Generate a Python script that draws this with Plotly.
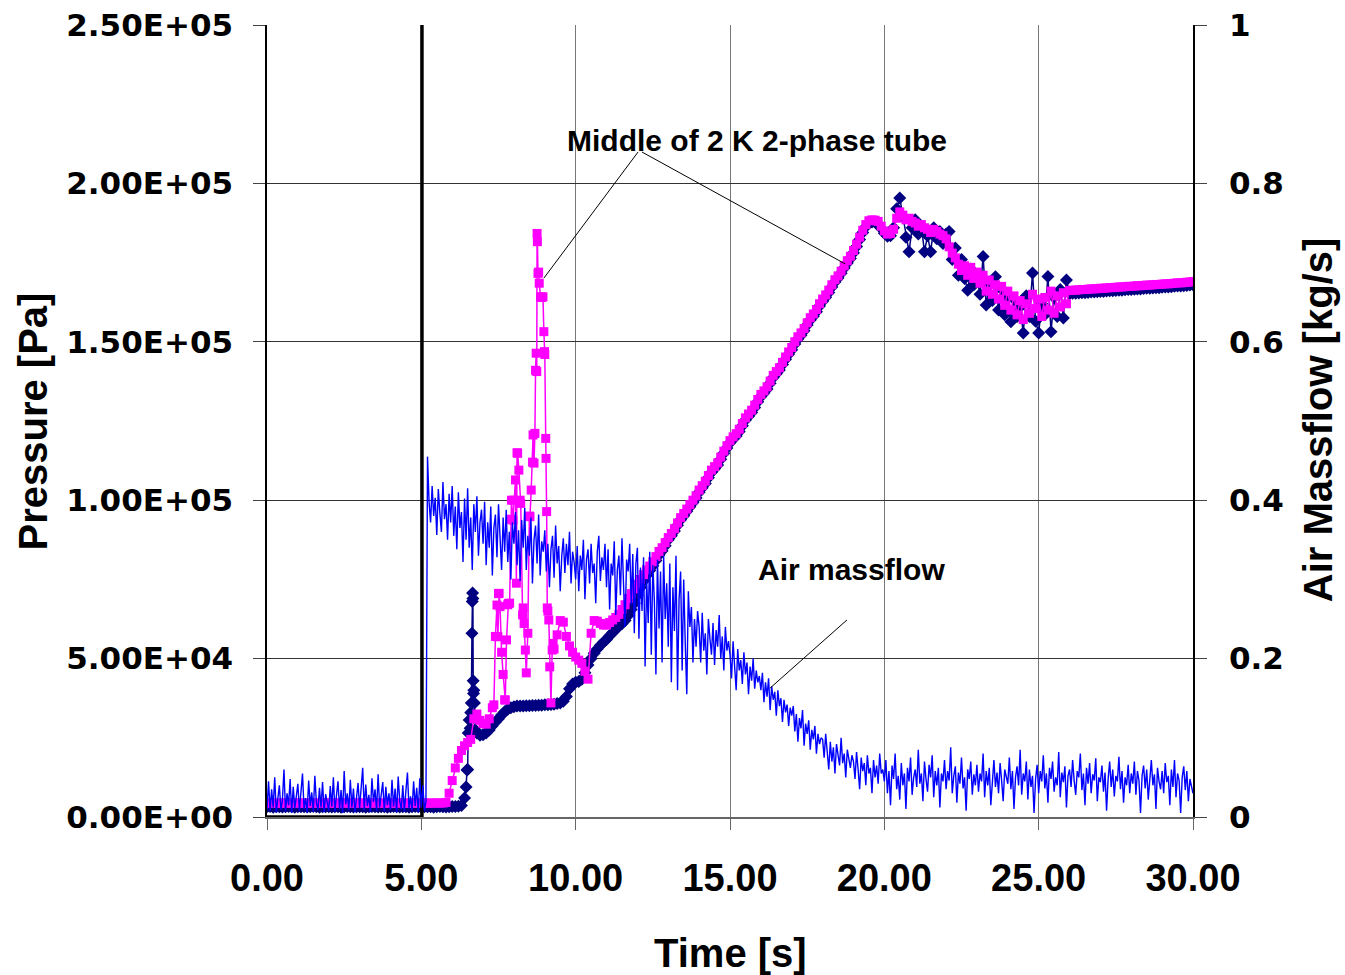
import plotly.graph_objects as go

# sample grids (s)
T_P = [round(0.1 * i, 1) for i in range(301)]
T_AIR = [round(0.05 * i, 2) for i in range(601)]

# Pressure, middle of 2 K 2-phase tube [Pa] (magenta), one value per 0.1 s
P_TUBE_MID = [
    4400, 4450, 4400, 4350, 4400, 4450, 4400, 4400, 4350, 4400,
    4450, 4400, 4350, 4400, 4400, 4450, 4400, 4350, 4400, 4450,
    4400, 4400, 4350, 4450, 4400, 4400, 4450, 4350, 4400, 4400,
    4450, 4400, 4400, 4350, 4400, 4450, 4400, 4400, 4350, 4450,
    4400, 4350, 4400, 4450, 4400, 4400, 4350, 4400, 4450, 4400,
    4400, 4450, 4350, 4400, 4400, 4450, 4400, 4400, 4600, 7500,
    11500, 15500, 18500, 21000, 22500, 23500, 24500, 31000, 32500, 30500,
    29500, 29300, 31000, 34500, 57000, 70500, 52000, 37000, 67000, 94000,
    100000, 115000, 100000, 66000, 45500, 95000, 112000, 141000, 172000, 164000,
    146000, 65000, 36000, 53000, 57500, 62000, 61500, 57000, 54000, 52000,
    50500, 49500, 48500, 46000, 43500, 58000, 62000, 61800, 61100, 60600,
    60600, 61400, 62200, 63000, 64000, 65500, 67000, 69000, 70500, 72000,
    73500, 75000, 76500, 78000, 79200, 80600, 82200, 83800, 85000, 86600,
    88200, 89500, 91000, 92800, 94500, 95800, 97200, 98600, 100000, 101400,
    103200, 104600, 106000, 107800, 109500, 110600, 111800, 113600, 115500, 117200,
    118800, 120000, 121000, 122400, 124200, 126000, 127200, 128400, 130000, 131800,
    133400, 134500, 135800, 137600, 139400, 140600, 141800, 143500, 145200, 146800,
    148200, 150000, 151600, 152800, 154200, 156000, 157600, 158800, 160200, 162000,
    163500, 164800, 166300, 168000, 169600, 170800, 172300, 174000, 175600, 177000,
    178800, 180800, 183000, 185200, 187000, 188200, 188500, 188400, 188000, 186500,
    185000, 184000, 184200, 185500, 189000, 191000, 190000, 188500, 189000, 188000,
    187500, 186500, 187000, 186000, 185500, 184500, 185500, 184800, 184000, 183500,
    182500, 180000, 178000, 176500, 174500, 172500, 174000, 171000, 173500, 170000,
    172000, 168500, 171000, 166000, 169500, 165000, 168000, 163500, 167500, 161500,
    166000, 160000, 164500, 158500, 163000, 157000, 162000, 159000, 165000, 160500,
    163500, 158000, 164000, 160000, 166000, 159000, 164500, 161000, 165500, 162000,
    166200, 166300, 166300, 166400, 166500, 166500, 166600, 166700, 166700, 166800,
    166900, 166900, 167000, 167100, 167100, 167200, 167300, 167300, 167400, 167500,
    167500, 167600, 167700, 167700, 167800, 167900, 167900, 168000, 168100, 168100,
    168200, 168300, 168300, 168400, 168500, 168600, 168600, 168700, 168800, 168900,
    169000,
]
# extra readings in the oscillating part (7.3 - 9.3 s)
P_TUBE_MID_BURST_T = [7.35, 7.45, 7.48, 7.52, 7.55, 7.65, 7.72, 7.76, 7.82, 7.86,
                      7.92, 7.97, 8.05, 8.08, 8.12, 8.16, 8.22, 8.28, 8.33, 8.37,
                      8.45, 8.52, 8.56, 8.62, 8.65, 8.68, 8.72, 8.74, 8.75, 8.76,
                      8.78, 8.82, 8.86, 8.94, 8.97, 8.99, 9.03, 9.04, 9.06, 9.08,
                      9.13, 9.16, 9.24, 9.27]
P_TUBE_MID_BURST = [35400, 66900, 56900, 70600, 66400, 45000, 36900, 55900, 67400, 67500,
                    100000, 93700, 106400, 73800, 114800, 109500, 99000, 63800, 61100, 52700,
                    58000, 94800, 103200, 120600, 111700, 121100, 146400, 140600, 184200, 181600,
                    171600, 168500, 164200, 164200, 153200, 146900, 119500, 113200, 96400, 66000,
                    62200, 47400, 52700, 54800]

# Pressure, second sensor [Pa] (navy), one value per 0.1 s
P_SENSOR = [
    3200, 3300, 3100, 3200, 3250, 3150, 3200, 3300, 3200, 3100,
    3200, 3250, 3200, 3150, 3200, 3300, 3200, 3100, 3200, 3250,
    3200, 3150, 3250, 3200, 3100, 3200, 3300, 3200, 3150, 3200,
    3250, 3200, 3100, 3200, 3300, 3200, 3150, 3250, 3200, 3100,
    3200, 3300, 3200, 3150, 3200, 3250, 3100, 3200, 3300, 3200,
    3150, 3200, 3250, 3200, 3100, 3200, 3300, 3200, 3150, 3250,
    3300, 3300, 3400, 3600, 6000, 15000, 33000, 40000, 26500, 25800,
    26000, 26500, 27500, 28800, 30000, 31000, 32200, 33200, 34000, 34500,
    34800, 35000, 35000, 35000, 35100, 35100, 35200, 35200, 35300, 35300,
    35400, 35400, 35500, 35600, 35800, 36000, 36500, 38000, 40500, 42000,
    42500, 42800, 43500, 45500, 48000, 50000, 51700, 53000, 54200, 55200,
    56000, 57200, 58200, 59200, 60300, 61000, 62000, 63600, 65500, 67500,
    70000, 72500, 74500, 76300, 77800, 79300, 81000, 82700, 84000, 85600,
    87500, 88800, 90300, 92100, 93800, 95100, 96500, 97900, 99300, 100700,
    102500, 103900, 105300, 107100, 108800, 109900, 111100, 112900, 114800, 116500,
    118100, 119300, 120300, 121700, 123500, 125300, 126500, 127700, 129300, 131100,
    132700, 133800, 135100, 136900, 138700, 139900, 141100, 142800, 144500, 146100,
    147500, 149300, 150900, 152100, 153500, 155300, 156900, 158100, 159500, 161300,
    162800, 164100, 165600, 167300, 168900, 170100, 171600, 173300, 174900, 176300,
    178100, 180100, 182300, 184500, 186300, 187500, 187800, 187700, 187300, 185800,
    184300, 183300, 183500, 186000, 192000, 195400, 189500, 183000, 178400, 186000,
    188500, 184000, 186500, 178400, 183500, 178400, 186000, 182500, 184800, 181000,
    184000, 184800, 176000, 179600, 171000, 176000, 170000, 166300, 173000, 168000,
    170000, 165000, 176900, 161600, 168000, 163000, 170500, 160000, 166500, 158500,
    164000, 156300, 163500, 158000, 161000, 152800, 164500, 158000, 171700, 156500,
    152800, 162000, 158500, 170600, 153200, 164000, 158000, 166500, 157500, 169500,
    165200, 165300, 165300, 165400, 165500, 165500, 165600, 165700, 165700, 165800,
    165900, 165900, 166000, 166100, 166100, 166200, 166300, 166300, 166400, 166500,
    166500, 166600, 166700, 166700, 166800, 166900, 166900, 167000, 167100, 167100,
    167200, 167300, 167300, 167400, 167500, 167600, 167600, 167700, 167800, 167900,
    168000,
]
P_SENSOR_BURST_T = [6.45, 6.48, 6.52, 6.55, 6.58, 6.62, 6.64, 6.65, 6.66, 6.67,
                    6.68, 6.69, 6.72, 6.75]
P_SENSOR_BURST = [9500, 14800, 26500, 30600, 28000, 36000, 58000, 68000, 70700, 69000,
                  43000, 39000, 36000, 27500]

# Air massflow [kg/s], one value per 0.05 s
AIR_MASSFLOW = [
    0.010, 0.045, 0.008, 0.035, 0.012, 0.050, 0.006, 0.028, 0.040, 0.009, 0.022, 0.060, 0.007, 0.030, 0.015, 0.048, 0.005, 0.038, 0.011, 0.026,
    0.042, 0.008, 0.033, 0.055, 0.010, 0.024, 0.006, 0.046, 0.014, 0.031, 0.007, 0.052, 0.018, 0.009, 0.037, 0.012, 0.044, 0.006, 0.029, 0.020,
    0.008, 0.039, 0.013, 0.050, 0.007, 0.027, 0.045, 0.010, 0.034, 0.005, 0.058, 0.016, 0.030, 0.009, 0.047, 0.012, 0.036, 0.006, 0.025, 0.043,
    0.011, 0.032, 0.062, 0.009, 0.041, 0.014, 0.028, 0.006, 0.049, 0.019, 0.035, 0.008, 0.054, 0.012, 0.027, 0.044, 0.007, 0.038, 0.015, 0.030,
    0.009, 0.047, 0.013, 0.036, 0.006, 0.051, 0.020, 0.010, 0.040, 0.007, 0.033, 0.056, 0.011, 0.026, 0.008, 0.045, 0.014, 0.037, 0.006, 0.049,
    0.012, 0.040, 0.008, 0.020, 0.455, 0.398, 0.372, 0.418, 0.380, 0.403, 0.356, 0.414, 0.384, 0.360, 0.423, 0.376, 0.395, 0.350, 0.408, 0.372,
    0.418, 0.355, 0.392, 0.338, 0.410, 0.365, 0.385, 0.322, 0.402, 0.350, 0.415, 0.340, 0.378, 0.312, 0.395, 0.360, 0.405, 0.330, 0.372, 0.388,
    0.345, 0.398, 0.318, 0.372, 0.340, 0.392, 0.305, 0.365, 0.382, 0.328, 0.395, 0.350, 0.312, 0.378, 0.335, 0.388, 0.322, 0.360, 0.300, 0.372,
    0.345, 0.385, 0.318, 0.362, 0.298, 0.375, 0.340, 0.390, 0.312, 0.355, 0.330, 0.378, 0.295, 0.350, 0.368, 0.320, 0.382, 0.305, 0.348, 0.335,
    0.362, 0.310, 0.345, 0.290, 0.338, 0.355, 0.302, 0.368, 0.320, 0.342, 0.285, 0.330, 0.352, 0.308, 0.345, 0.318, 0.360, 0.295, 0.335, 0.322,
    0.300, 0.342, 0.285, 0.330, 0.312, 0.350, 0.275, 0.325, 0.338, 0.295, 0.345, 0.308, 0.320, 0.270, 0.335, 0.355, 0.298, 0.328, 0.312, 0.345,
    0.290, 0.338, 0.262, 0.320, 0.305, 0.348, 0.255, 0.312, 0.330, 0.280, 0.352, 0.295, 0.240, 0.325, 0.310, 0.345, 0.268, 0.332, 0.232, 0.320,
    0.340, 0.225, 0.315, 0.260, 0.328, 0.190, 0.300, 0.245, 0.335, 0.205, 0.318, 0.272, 0.180, 0.325, 0.238, 0.310, 0.195, 0.330, 0.250, 0.295,
    0.215, 0.320, 0.170, 0.290, 0.235, 0.330, 0.160, 0.275, 0.310, 0.185, 0.300, 0.220, 0.155, 0.285, 0.240, 0.265, 0.195, 0.250, 0.215, 0.260,
    0.240, 0.195, 0.258, 0.210, 0.232, 0.180, 0.250, 0.225, 0.205, 0.245, 0.192, 0.236, 0.215, 0.255, 0.200, 0.228, 0.185, 0.240, 0.210, 0.222,
    0.205, 0.175, 0.222, 0.190, 0.160, 0.212, 0.185, 0.198, 0.168, 0.208, 0.180, 0.195, 0.155, 0.190, 0.172, 0.200, 0.162, 0.185, 0.170, 0.178,
    0.160, 0.182, 0.145, 0.170, 0.152, 0.175, 0.135, 0.165, 0.148, 0.158, 0.128, 0.160, 0.140, 0.150, 0.120, 0.148, 0.132, 0.142, 0.115, 0.138,
    0.128, 0.140, 0.108, 0.130, 0.095, 0.125, 0.112, 0.135, 0.090, 0.118, 0.105, 0.122, 0.085, 0.110, 0.098, 0.115, 0.080, 0.105, 0.092, 0.100,
    0.098, 0.075, 0.105, 0.082, 0.060, 0.095, 0.070, 0.088, 0.055, 0.092, 0.078, 0.065, 0.100, 0.068, 0.080, 0.050, 0.085, 0.072, 0.062, 0.078,
    0.070, 0.048, 0.082, 0.060, 0.035, 0.075, 0.058, 0.068, 0.040, 0.078, 0.055, 0.062, 0.030, 0.072, 0.050, 0.065, 0.042, 0.080, 0.055, 0.060,
    0.045, 0.072, 0.030, 0.058, 0.015, 0.065, 0.048, 0.080, 0.035, 0.052, 0.022, 0.068, 0.040, 0.055, 0.010, 0.062, 0.045, 0.075, 0.028, 0.050,
    0.060, 0.038, 0.085, 0.042, 0.055, 0.020, 0.070, 0.048, 0.032, 0.066, 0.050, 0.078, 0.025, 0.058, 0.040, 0.062, 0.012, 0.055, 0.045, 0.072,
    0.035, 0.058, 0.046, 0.088, 0.030, 0.052, 0.064, 0.018, 0.056, 0.042, 0.075, 0.036, 0.050, 0.008, 0.060, 0.048, 0.070, 0.028, 0.054, 0.040,
    0.066, 0.032, 0.055, 0.045, 0.080, 0.025, 0.058, 0.040, 0.062, 0.015, 0.052, 0.072, 0.038, 0.056, 0.030, 0.068, 0.046, 0.020, 0.060, 0.050,
    0.042, 0.075, 0.035, 0.058, 0.010, 0.050, 0.064, 0.040, 0.085, 0.028, 0.055, 0.045, 0.070, 0.022, 0.060, 0.038, 0.052, 0.005, 0.048, 0.066,
    0.030, 0.058, 0.045, 0.078, 0.036, 0.055, 0.018, 0.062, 0.048, 0.070, 0.032, 0.050, 0.040, 0.082, 0.025, 0.056, 0.044, 0.064, 0.012, 0.052,
    0.060, 0.038, 0.072, 0.046, 0.028, 0.058, 0.050, 0.080, 0.034, 0.055, 0.015, 0.062, 0.042, 0.068, 0.030, 0.054, 0.046, 0.074, 0.020, 0.050,
    0.044, 0.065, 0.032, 0.056, 0.008, 0.048, 0.070, 0.038, 0.060, 0.026, 0.052, 0.045, 0.076, 0.035, 0.058, 0.018, 0.050, 0.040, 0.066, 0.030,
    0.055, 0.042, 0.070, 0.028, 0.058, 0.046, 0.005, 0.052, 0.065, 0.036, 0.060, 0.022, 0.048, 0.072, 0.040, 0.054, 0.010, 0.062, 0.045, 0.035,
    0.058, 0.030, 0.068, 0.044, 0.052, 0.015, 0.060, 0.038, 0.072, 0.025, 0.055, 0.046, 0.005, 0.050, 0.064, 0.034, 0.058, 0.020, 0.048, 0.040,
    0.030,
]

# valve / trigger signal (black)
VALVE_T = [0.0, 5.02, 5.02]
VALVE_P = [0, 0, 260000]

Y_TICKS = [0, 50000, 100000, 150000, 200000, 250000]
Y2_TICKS = [0, 0.2, 0.4, 0.6, 0.8, 1]
Y2_TEXT = ['0', '0.2', '0.4', '0.6', '0.8', '1']
X_TICKS = [0, 5, 10, 15, 20, 25, 30]

assert len(P_TUBE_MID) == len(T_P) and len(P_SENSOR) == len(T_P)
assert len(AIR_MASSFLOW) == len(T_AIR)


def merge(t, p, bt, bp):
    pts = sorted(zip(t + bt, p + bp), key=lambda a: a[0])
    return [a[0] for a in pts], [a[1] for a in pts]


mid_t, mid_p = merge(T_P, P_TUBE_MID, P_TUBE_MID_BURST_T, P_TUBE_MID_BURST)
sen_t, sen_p = merge(T_P, P_SENSOR, P_SENSOR_BURST_T, P_SENSOR_BURST)

ARIAL = 'Liberation Sans, Arial, sans-serif'
WIDE = 'DejaVu Sans, Verdana, sans-serif'

fig = go.Figure()
fig.add_trace(go.Scatter(x=sen_t, y=sen_p, mode='lines+markers',
                         line=dict(color='#000080', width=1.5),
                         marker=dict(symbol='diamond', size=10, color='#000080')))
fig.add_trace(go.Scatter(x=mid_t, y=mid_p, mode='lines+markers',
                         line=dict(color='#FF00FF', width=1.5),
                         marker=dict(symbol='square', size=9, color='#FF00FF')))
fig.add_trace(go.Scatter(x=VALVE_T, y=VALVE_P, mode='lines',
                         line=dict(color='black', width=3.5)))
fig.add_trace(go.Scatter(x=T_AIR, y=AIR_MASSFLOW, mode='lines', yaxis='y2',
                         line=dict(color='#0000FF', width=1.4)))

fig.update_layout(
    width=1345, height=975,
    margin=dict(l=267, r=152, t=25, b=158),
    paper_bgcolor='white', plot_bgcolor='white',
    showlegend=False,
    xaxis=dict(range=[0, 30], tickvals=X_TICKS, ticktext=[f'{v:.2f}' for v in X_TICKS],
               automargin=False,
               showgrid=True, gridcolor='#777', gridwidth=1, zeroline=False,
               showline=True, linecolor='#666', linewidth=1.5,
               ticks='outside', ticklen=11, tickcolor='#666',
               ticklabelstandoff=16,
               tickfont=dict(family=ARIAL, size=38, color='black', weight='bold')),
    yaxis=dict(range=[0, 250000], tickvals=Y_TICKS, ticktext=[f'{v:.2E}' for v in Y_TICKS],
               automargin=False,
               showgrid=True, gridcolor='#333', gridwidth=1, zeroline=False,
               showline=True, linecolor='black', linewidth=1.5,
               ticks='outside', ticklen=12, tickcolor='#444',
               ticklabelstandoff=14,
               tickfont=dict(family=WIDE, size=31, color='black', weight='bold')),
    yaxis2=dict(range=[0, 1], overlaying='y', side='right', tickvals=Y2_TICKS, ticktext=Y2_TEXT,
                automargin=False,
                showgrid=False, zeroline=False,
                showline=True, linecolor='black', linewidth=1.5,
                ticks='outside', ticklen=12, tickcolor='#444',
                ticklabelstandoff=16,
                tickfont=dict(family=WIDE, size=31, color='black', weight='bold')),
)

title_font = dict(family=ARIAL, size=40, color='black', weight='bold')
note_font = dict(family=ARIAL, size=30, color='black', weight='bold')
fig.add_annotation(text='Time [s]', x=0.5, y=-0.172, xref='paper', yref='paper',
                   xanchor='center', yanchor='middle', showarrow=False, font=title_font)
fig.add_annotation(text='Pressure [Pa]', x=-0.253, y=0.499, xref='paper', yref='paper',
                   textangle=-90, xanchor='center', yanchor='middle', showarrow=False, font=title_font)
fig.add_annotation(text='Air Massflow [kg/s]', x=1.135, y=0.501, xref='paper', yref='paper',
                   textangle=-90, xanchor='center', yanchor='middle', showarrow=False, font=title_font)

# callouts
fig.add_annotation(text='Middle of 2 K 2-phase tube', x=15.87, y=213700, xref='x', yref='y',
                   xanchor='center', yanchor='middle', showarrow=False, font=note_font)
fig.add_annotation(text='Air massflow', x=18.92, y=78000, xref='x', yref='y',
                   xanchor='center', yanchor='middle', showarrow=False, font=note_font)
for x0, y0, x1, y1 in [(12.02, 209900, 8.97, 170100),
                       (12.15, 209900, 18.73, 174600),
                       (18.79, 62200, 16.30, 40700)]:
    fig.add_shape(type='line', xref='x', yref='y', x0=x0, y0=y0, x1=x1, y1=y1,
                  line=dict(color='black', width=1))

# drop the browser's default body margin so the figure sits at the page corner
fig.write_html('out.html', config={'displayModeBar': False},
               post_script="document.body.style.margin='0';")
